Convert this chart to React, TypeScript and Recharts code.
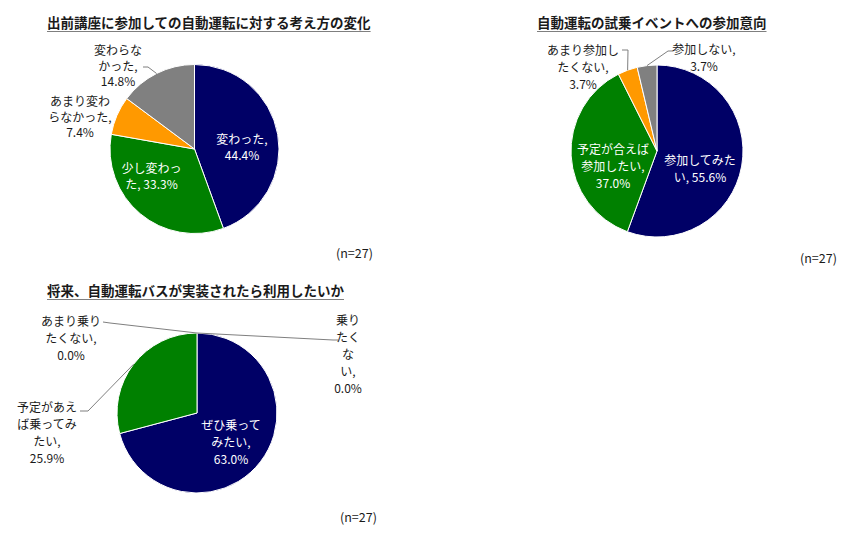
import { PieChart, Pie, Cell } from 'recharts'

const COLORS = ['#000066', '#008000', '#FF9900', '#808080']

// 出前講座に参加しての自動運転に対する考え方の変化
const changeNames = ['変わった', '少し変わった', 'あまり変わらなかった', '変わらなかった']
const changeValues = [44.4, 33.3, 7.4, 14.8]

// 自動運転の試乗イベントへの参加意向
const eventNames = ['参加してみたい', '予定が合えば参加したい', 'あまり参加したくない', '参加しない']
const eventValues = [55.6, 37.0, 3.7, 3.7]

// 将来、自動運転バスが実装されたら利用したいか
const busNames = ['ぜひ乗ってみたい', '予定があえば乗ってみたい', 'あまり乗りたくない', '乗りたくない']
const busValues = [63.0, 25.9, 0.0, 0.0]

const TITLES = [
  '出前講座に参加しての自動運転に対する考え方の変化',
  '自動運転の試乗イベントへの参加意向',
  '将来、自動運転バスが実装されたら利用したいか',
]
const SAMPLE = 27

const FONT = '"Noto Sans CJK JP", "Noto Sans", sans-serif'
const RAD = Math.PI / 180

type Pt = [number, number]
type LabelLayout = {
  dx: number
  dy: number
  breaks: number[]
  inside?: boolean
  leader?: Pt[]
}

// ラベル位置（円の中心からのずれ）と改行位置
const changeLayout: LabelLayout[] = [
  { dx: 47.5, dy: -2.5, breaks: [5], inside: true },
  { dx: -43, dy: 26.5, breaks: [5], inside: true },
  { dx: -114.5, dy: -33, breaks: [5, 6] },
  { dx: -76.5, dy: -84, breaks: [4, 4], leader: [[-46.5, -82], [-51.5, -82]] },
]
const eventLayout: LabelLayout[] = [
  { dx: 43, dy: 17, breaks: [6], inside: true },
  { dx: -44, dy: 14.5, breaks: [6, 6], inside: true },
  { dx: -74, dy: -85, breaks: [6, 5], leader: [[-29, -101], [-35, -101]] },
  { dx: 47, dy: -94, breaks: [6], leader: [[11, -100], [16, -100]] },
]
const busLayout: LabelLayout[] = [
  { dx: 34, dy: 28.5, breaks: [5, 4], inside: true },
  { dx: -150, dy: 19, breaks: [5, 5, 3], leader: [[-109, -2], [-117, -2]] },
  { dx: -126, dy: -76, breaks: [5, 5], leader: [[-87, -90], [-94, -91]] },
  { dx: 151, dy: -60, breaks: [2, 2, 1, 2], leader: [[136, -73], [141, -73]] },
]

function splitLines(text: string, breaks: number[]) {
  const out: string[] = []
  let pos = 0
  for (const b of breaks) {
    out.push(text.slice(pos, pos + b).trim())
    pos += b
  }
  out.push(text.slice(pos).trim())
  return out
}

function makeLabel(names: string[], values: number[], layout: LabelLayout[], lh: number) {
  return (props: any) => {
    const { cx, cy, midAngle, outerRadius, index } = props
    const l = layout[index]
    if (!l) return null
    const text = `${names[index]}, ${values[index].toFixed(1)}%`
    const lines = splitLines(text, l.breaks)
    const x = cx + l.dx
    const y0 = cy + l.dy - ((lines.length - 1) * lh) / 2
    let leader = null
    if (l.leader) {
      const ax = cx + outerRadius * Math.cos(-midAngle * RAD)
      const ay = cy + outerRadius * Math.sin(-midAngle * RAD)
      const pts = [[ax, ay], ...l.leader.map(([px, py]) => [cx + px, cy + py])]
      leader = (
        <polyline
          points={pts.map((p) => p.join(',')).join(' ')}
          fill="none"
          stroke="#7f7f7f"
          strokeWidth={1}
        />
      )
    }
    return (
      <g key={`lbl-${index}`}>
        {leader}
        <text
          x={x}
          y={y0}
          textAnchor="middle"
          fontSize={12}
          fontFamily={FONT}
          fill={l.inside ? '#ffffff' : '#1a1a1a'}
        >
          {lines.map((s, i) => (
            <tspan key={i} x={x} y={y0 + i * lh} dominantBaseline="central">
              {s}
            </tspan>
          ))}
        </text>
      </g>
    )
  }
}

const toData = (names: string[], values: number[]) =>
  names.map((name, i) => ({ name, value: values[i] }))

const titleStyle = (left: number, top: number): React.CSSProperties => ({
  position: 'absolute',
  left,
  top,
  fontSize: 13.5,
  fontWeight: 'bold',
  fontFamily: FONT,
  lineHeight: '16px',
  textDecoration: 'underline',
  textDecorationColor: '#7f7f7f',
  textUnderlineOffset: 3,
  color: '#1a1a1a',
  whiteSpace: 'nowrap',
})

const noteStyle = (left: number, top: number): React.CSSProperties => ({
  position: 'absolute',
  left,
  top,
  fontSize: 12.5,
  fontFamily: FONT,
  lineHeight: '14px',
  color: '#1a1a1a',
})

export default function App() {
  const pies = [
    { names: changeNames, values: changeValues, layout: changeLayout, cx: 194.5, cy: 149, r: 84.5, lh: 15.5 },
    { names: eventNames, values: eventValues, layout: eventLayout, cx: 657, cy: 151, r: 86, lh: 17 },
    { names: busNames, values: busValues, layout: busLayout, cx: 197, cy: 413, r: 80, lh: 17 },
  ]
  return (
    <div style={{ position: 'absolute', left: 0, top: 0, width: 850, height: 533, background: '#fff' }}>
      <PieChart width={850} height={533} margin={{ top: 0, right: 0, bottom: 0, left: 0 }}>
        {pies.map((p, k) => (
          <Pie
            key={k}
            data={toData(p.names, p.values)}
            dataKey="value"
            nameKey="name"
            cx={p.cx}
            cy={p.cy}
            outerRadius={p.r}
            startAngle={90}
            endAngle={-270}
            stroke="#ffffff"
            strokeWidth={1}
            label={makeLabel(p.names, p.values, p.layout, p.lh)}
            labelLine={false}
            isAnimationActive={false}
          >
            {p.names.map((n, i) => (
              <Cell key={n} fill={COLORS[i % COLORS.length]} />
            ))}
          </Pie>
        ))}
      </PieChart>
      <div style={titleStyle(47, 14)}>{TITLES[0]}</div>
      <div style={titleStyle(537, 14)}>{TITLES[1]}</div>
      <div style={titleStyle(47, 282)}>{TITLES[2]}</div>
      <div style={noteStyle(336, 246)}>(n={SAMPLE})</div>
      <div style={noteStyle(800, 251)}>(n={SAMPLE})</div>
      <div style={noteStyle(340, 510)}>(n={SAMPLE})</div>
    </div>
  )
}
